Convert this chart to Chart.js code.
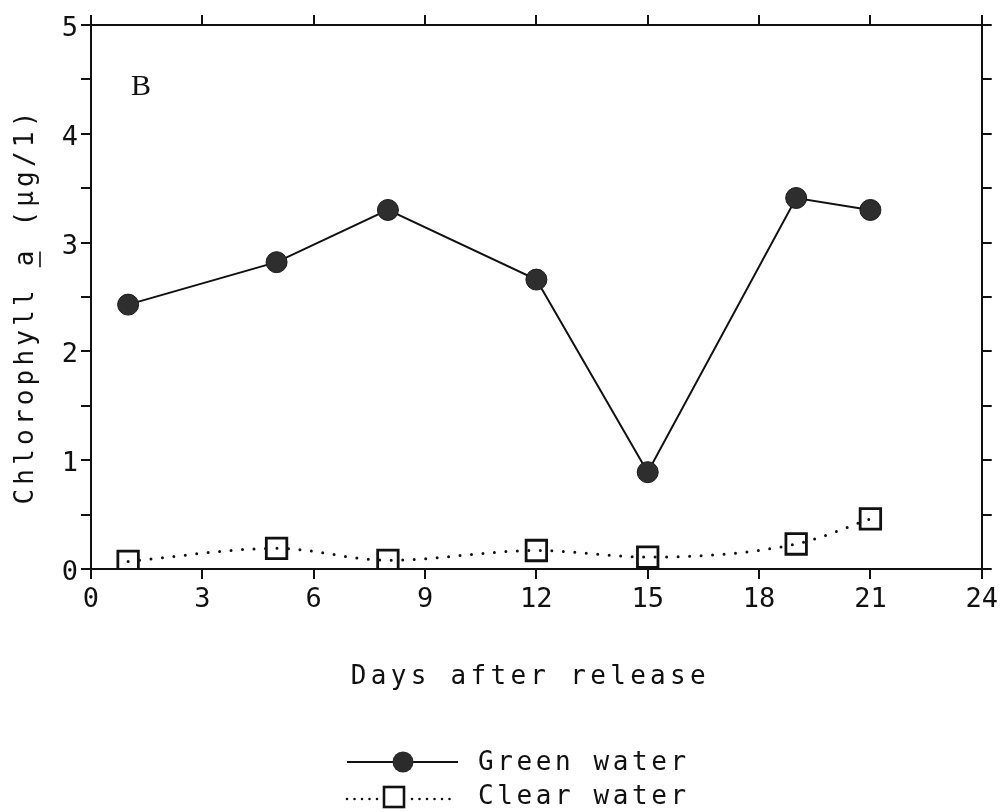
<!DOCTYPE html>
<html>
<head>
<meta charset="utf-8">
<title>Chlorophyll a after release</title>
<script src="https://cdn.jsdelivr.net/npm/chart.js@4/dist/chart.umd.min.js"></script>
<style>
  html, body { margin: 0; padding: 0; background: #fff; }
  #wrap { width: 1003px; height: 812px; }
</style>
</head>
<body>
<div id="wrap"><canvas id="c" width="1003" height="812"></canvas></div>
<script>
// Sampling days and chlorophyll a readings (µg/l)
const days = [1, 5, 8, 12, 15, 19, 21];
const greenWater = [2.43, 2.82, 3.30, 2.66, 0.89, 3.41, 3.30];
const clearWater = [0.07, 0.19, 0.08, 0.17, 0.11, 0.23, 0.46];

const seriesNames = ['Green water', 'Clear water'];
const xTitle = 'Days after release';
const yTitleParts = ['Chlorophyll ', 'a', ' (µg/1)'];
const panelLetter = 'B';

const xMin = 0, xMax = 24, xStep = 3;
const yMin = 0, yMax = 5, yStep = 0.5;

const INK = '#111';
const MONO = '"DejaVu Sans Mono", "Liberation Mono", monospace';

Chart.defaults.color = INK;
Chart.defaults.font.family = MONO;

const toPoints = (xs, ys) => xs.map((x, i) => ({ x, y: ys[i] }));

// Titles, panel letter and the key are painted on the canvas after the plot
const decorations = {
  id: 'decorations',
  afterDraw(chart) {
    const ctx = chart.ctx;
    const area = chart.chartArea;
    ctx.save();
    ctx.fillStyle = INK;
    ctx.strokeStyle = INK;

    // panel letter
    ctx.font = '30px "Liberation Serif", "DejaVu Serif", serif';
    ctx.textAlign = 'left';
    ctx.textBaseline = 'alphabetic';
    ctx.fillText(panelLetter, 131, 95);

    // x axis title
    ctx.font = '26px ' + MONO;
    ctx.letterSpacing = '4.3px';
    ctx.textAlign = 'center';
    ctx.fillText(xTitle, (area.left + area.right) / 2 - 6, 684);

    // y axis title, rotated, with the "a" underlined
    ctx.save();
    ctx.translate(33, 306);
    ctx.rotate(-Math.PI / 2);
    ctx.textAlign = 'left';
    ctx.letterSpacing = '4.2px';
    const full = yTitleParts.join('');
    const total = ctx.measureText(full).width;
    const x0 = -total / 2;
    const w0 = ctx.measureText(yTitleParts[0]).width;
    const w1 = ctx.measureText(yTitleParts[1]).width;
    ctx.fillText(full, x0, 0);
    ctx.lineWidth = 1.6;
    ctx.beginPath();
    ctx.moveTo(x0 + w0 - 1, 7);
    ctx.lineTo(x0 + w0 + w1 - 5, 7);
    ctx.stroke();
    ctx.restore();

    // key
    const keyLeft = 347, keyRight = 458, textX = 478;
    const rows = [762, 796];
    ctx.textAlign = 'left';
    ctx.textBaseline = 'middle';
    ctx.letterSpacing = '3.6px';

    // row 1: solid line with filled circle
    ctx.lineWidth = 2.2;
    ctx.setLineDash([]);
    ctx.beginPath();
    ctx.moveTo(keyLeft, rows[0]);
    ctx.lineTo(keyRight, rows[0]);
    ctx.stroke();
    ctx.fillStyle = '#2b2b2b';
    ctx.beginPath();
    ctx.arc(403, rows[0], 10.5, 0, Math.PI * 2);
    ctx.fill();
    ctx.fillStyle = INK;
    ctx.fillText(seriesNames[0], textX, rows[0] + 1);

    // row 2: dotted line with open square
    ctx.lineWidth = 2.6;
    ctx.lineCap = 'round';
    ctx.setLineDash([0, 7.5]);
    ctx.beginPath();
    ctx.moveTo(keyLeft, rows[1] + 3);
    ctx.lineTo(379, rows[1] + 3);
    ctx.moveTo(412, rows[1] + 3);
    ctx.lineTo(452, rows[1] + 3);
    ctx.stroke();
    ctx.setLineDash([]);
    ctx.lineCap = 'butt';
    ctx.lineWidth = 2.6;
    ctx.strokeRect(384, rows[1] - 9, 20, 20);
    ctx.fillText(seriesNames[1], textX, rows[1] + 1);

    ctx.restore();
  }
};

const axisGrid = {
  drawOnChartArea: false,
  drawTicks: true,
  tickLength: 10,
  color: INK,
  lineWidth: 2
};
const axisBorder = { display: true, color: INK, width: 2 };

new Chart(document.getElementById('c'), {
  type: 'line',
  data: {
    datasets: [
      {
        label: seriesNames[0],
        data: toPoints(days, greenWater),
        xAxisID: 'x',
        yAxisID: 'y',
        borderColor: INK,
        borderWidth: 2,
        tension: 0,
        pointStyle: 'circle',
        pointRadius: 10.5,
        pointBorderWidth: 1,
        pointBorderColor: '#1a1a1a',
        pointBackgroundColor: '#2e2e2e'
      },
      {
        label: seriesNames[1],
        data: toPoints(days, clearWater),
        xAxisID: 'x',
        yAxisID: 'y',
        borderColor: INK,
        borderWidth: 3,
        borderDash: [0, 11.5],
        borderCapStyle: 'round',
        cubicInterpolationMode: 'monotone',
        pointStyle: 'rect',
        pointRadius: 14.5,
        pointBorderWidth: 2.8,
        pointBorderColor: INK,
        pointBackgroundColor: 'rgba(0,0,0,0)'
      }
    ]
  },
  options: {
    responsive: false,
    animation: false,
    layout: { padding: 0 },
    plugins: {
      legend: { display: false },
      tooltip: { enabled: false },
      title: { display: false }
    },
    scales: {
      x: {
        type: 'linear',
        position: 'bottom',
        min: xMin, max: xMax,
        ticks: { stepSize: xStep, padding: 5, font: { size: 27 }, color: INK, maxRotation: 0 },
        grid: axisGrid,
        border: axisBorder,
        afterFit(s) { s.height = 812 - 569; }
      },
      xTop: {
        type: 'linear',
        position: 'top',
        min: xMin, max: xMax,
        ticks: { stepSize: xStep, callback: () => '' },
        grid: axisGrid,
        border: axisBorder,
        afterFit(s) { s.height = 25; }
      },
      y: {
        type: 'linear',
        position: 'left',
        min: yMin, max: yMax,
        ticks: {
          stepSize: yStep, padding: 3, labelOffset: 4, font: { size: 27 }, color: INK,
          callback: v => Number.isInteger(v) ? String(v) : ''
        },
        grid: axisGrid,
        border: axisBorder,
        afterFit(s) { s.width = 91; }
      },
      yRight: {
        type: 'linear',
        position: 'right',
        min: yMin, max: yMax,
        ticks: { stepSize: yStep, callback: () => '' },
        grid: axisGrid,
        border: axisBorder,
        afterFit(s) { s.width = 1003 - 986; }
      }
    }
  },
  plugins: [decorations]
});
</script>
</body>
</html>
